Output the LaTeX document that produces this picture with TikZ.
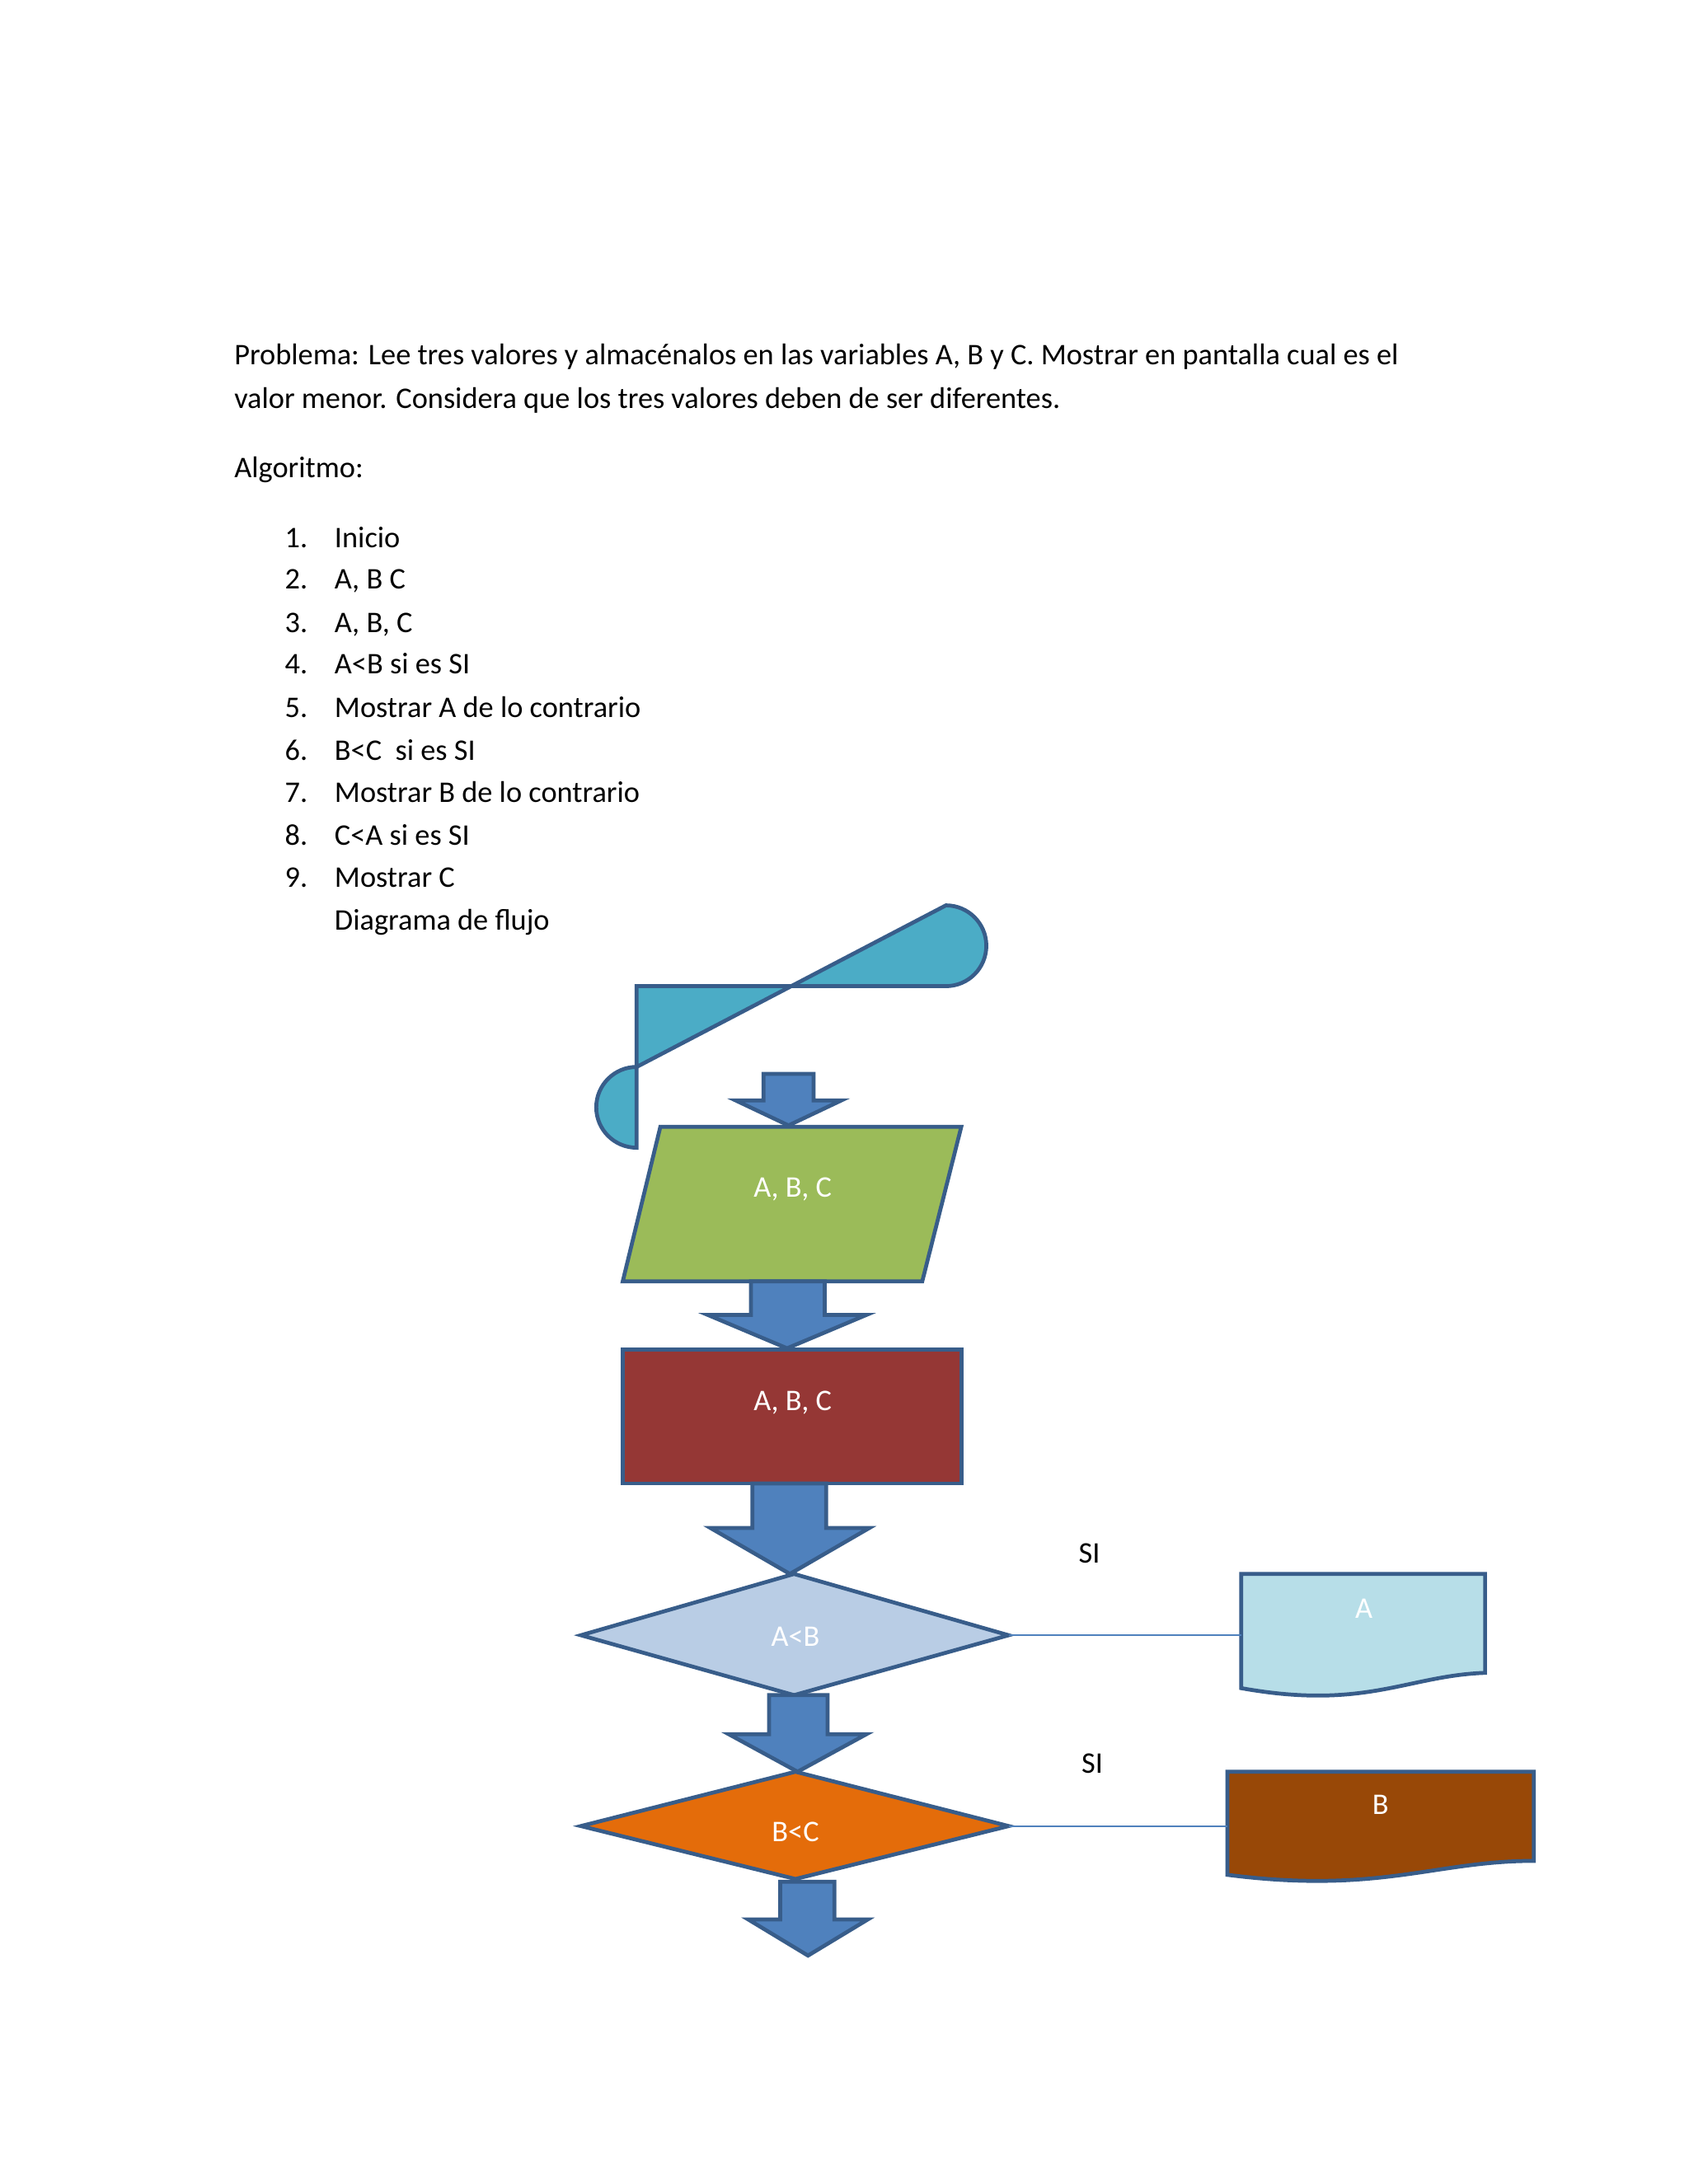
\documentclass[tikz,border=0pt]{standalone}
\usepackage{fontspec}
\setmainfont{Carlito}
\definecolor{bord}{HTML}{385D8A}
\definecolor{arr}{HTML}{4F81BD}
\tikzset{
 shp/.style={draw=bord,line width=2.8pt,line join=miter},
 blk/.style={shp,fill=arr},
 txt/.style={font=\fontsize{21.5}{26}\selectfont,inner sep=0pt,anchor=base west},
 wtxt/.style={font=\fontsize{21.5}{26}\selectfont,text=white,inner sep=0pt},
 conn/.style={draw=arr,line width=1.2pt}
}
\newcommand{\blkarrow}[7]{% sx1 sx2 ytop yneck hx1 hx2 ytip
 \path[blk] (#1,#3) -- (#2,#3) -- (#2,#4) -- (#6,#4) -- ({(#5+#6)/2},#7) -- (#5,#4) -- (#1,#4) -- cycle;}
\begin{document}
\begin{tikzpicture}[x=1pt,y=-1pt]
\useasboundingbox (0,0) rectangle (1212,1568);
\fill[white] (0,0) rectangle (1212,1568);
% text
\node[txt] (p1) at (168,262) {Problema: Lee tres valores y almacénalos en las variables A, B y C. Mostrar en pantalla cual es el};
\node[txt] (p2) at (168,293) {valor menor. Considera que los tres valores deben de ser diferentes.};
\node[txt] (alg) at (168,343) {Algoritmo:};
\foreach \n/\t/\y in {1/Inicio/393,2/{A, B C}/423,3/{A, B, C}/454,4/{A<B si es SI}/484,5/{Mostrar A de lo contrario}/515,6/{B<C\ \ si es SI}/546,7/{Mostrar B de lo contrario}/576,8/{C<A si es SI}/607,9/{Mostrar C}/637}{
 \node[txt,anchor=base east] (n\n) at (221,\y) {\n.};
 \node[txt] (t\n) at (240,\y) {\t};
}
\node[txt] (dia) at (240,668) {Diagrama de flujo};
% Inicio
\path[shp,fill={rgb,255:red,75;green,172;blue,198}] (457,708) -- (679,708) arc (90:-90:29) -- (457,766) arc (270:90:29) -- cycle;
\node[wtxt] (ini) at (568,740) {Inicio};
\blkarrow{548}{584}{771}{790}{528}{604}{808}
% parallelogram
\path[shp,fill={rgb,255:red,155;green,187;blue,89}] (474,809) -- (690,809) -- (662,920) -- (447,920) -- cycle;
\node[wtxt] (inp) at (569,854) {A, B, C};
\blkarrow{539}{592}{920}{944}{508}{622}{968}
% process
\path[shp,fill={rgb,255:red,149;green,55;blue,53}] (447,969) rectangle (690,1065);
\node[wtxt] (proc) at (569,1007) {A, B, C};
\blkarrow{540}{593}{1065}{1097}{510}{624}{1130}
% diamond 1
\path[shp,fill={rgb,255:red,185;green,205;blue,229}] (417,1174) -- (570,1130) -- (724,1174) -- (570,1217) -- cycle;
\coordinate (d1r) at (724,1174);
\node[wtxt] (d1) at (571,1175) {A<B};
\blkarrow{552}{594}{1217}{1245}{523}{622}{1272}
% diamond 2
\path[shp,fill={rgb,255:red,228;green,108;blue,10}] (417,1311) -- (571,1272) -- (724,1311) -- (571,1349) -- cycle;
\coordinate (d2r) at (724,1311);
\node[wtxt] (d2) at (571,1315) {B<C};
\blkarrow{560}{599}{1351}{1378}{537}{623}{1404}
% doc A
\path[shp,fill={rgb,255:red,183;green,222;blue,232}] (891,1130) -- (1066,1130) -- (1066,1201) .. controls (1010,1203) and (980,1228) .. (891,1212) -- cycle;
\coordinate (docA) at (891,1174);
\node[wtxt] (la) at (979,1155) {A};
% doc B
\path[shp,fill={rgb,255:red,152;green,72;blue,7}] (881,1272) -- (1101,1272) -- (1101,1336) .. controls (1030,1336) and (990,1360) .. (881,1346) -- cycle;
\coordinate (docB) at (881,1311);
\node[wtxt] (lb) at (991,1296) {B};
\draw[conn] (d1r) -- (docA);
\draw[conn] (d2r) -- (docB);
\node[font=\fontsize{21.5}{26}\selectfont,inner sep=0pt] (si1) at (782,1115) {SI};
\node[font=\fontsize{21.5}{26}\selectfont,inner sep=0pt] (si2) at (784,1266) {SI};
\end{tikzpicture}
\end{document}
